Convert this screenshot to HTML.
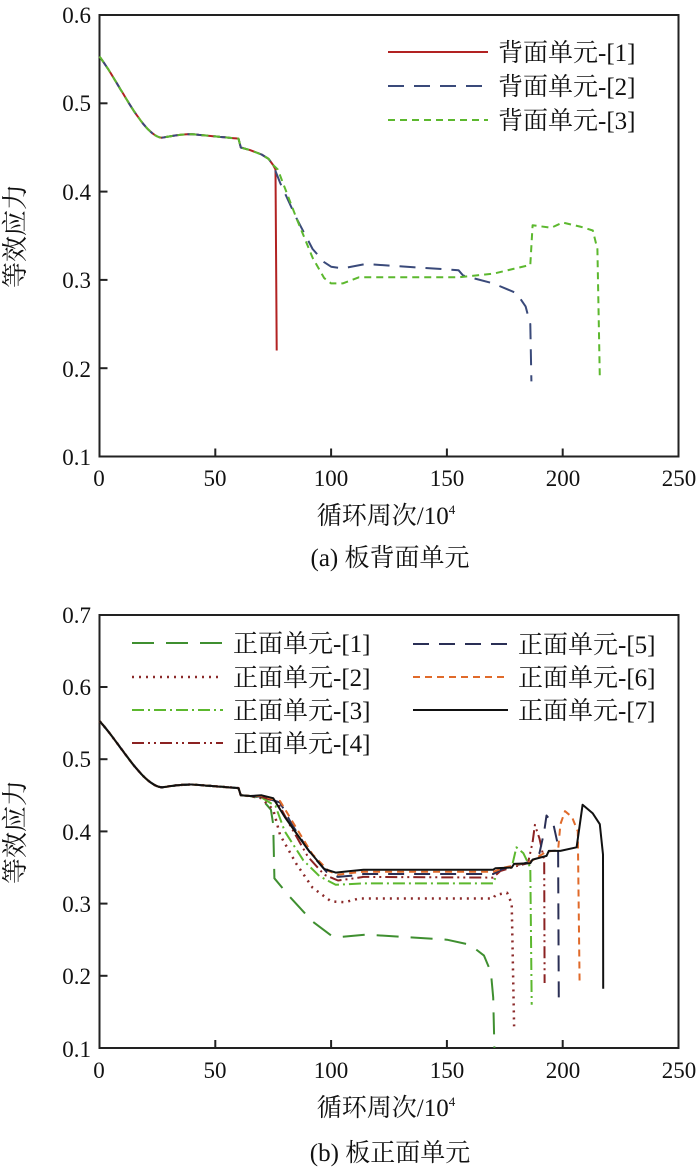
<!DOCTYPE html>
<html><head><meta charset="utf-8"><style>
body{margin:0;background:#fff}
svg text{font-family:"Liberation Serif","Noto Serif CJK SC",serif;fill:#111}
</style></head><body>
<svg id="s" width="700" height="1170" xmlns="http://www.w3.org/2000/svg">
<g font-size="23">
<rect x="99.5" y="15" width="579" height="441.5" fill="none" stroke="#222" stroke-width="2"/>
<g text-anchor="end">
<text x="91" y="23">0.6</text><text x="91" y="111">0.5</text><text x="91" y="200">0.4</text>
<text x="91" y="288">0.3</text><text x="91" y="377">0.2</text><text x="91" y="465">0.1</text>
</g>
<g text-anchor="middle">
<text x="99" y="486">0</text><text x="215" y="486">50</text><text x="331" y="486">100</text>
<text x="447" y="486">150</text><text x="563" y="486">200</text><text x="679" y="486">250</text>
<text x="386" y="524" font-size="25">循环周次/10<tspan font-size="13" dy="-10">4</tspan></text>
<text x="390" y="566" font-size="25">(a) 板背面单元</text>
<text transform="translate(24,236) rotate(-90)" font-size="26">等效应力</text>
</g>
<rect x="99.5" y="615" width="579" height="433" fill="none" stroke="#222" stroke-width="2"/>
<g text-anchor="end">
<text x="91" y="623">0.7</text><text x="91" y="695">0.6</text><text x="91" y="767">0.5</text>
<text x="91" y="840">0.4</text><text x="91" y="912">0.3</text><text x="91" y="984">0.2</text><text x="91" y="1057">0.1</text>
</g>
<g text-anchor="middle">
<text x="99" y="1078">0</text><text x="215" y="1078">50</text><text x="331" y="1078">100</text>
<text x="447" y="1078">150</text><text x="563" y="1078">200</text><text x="679" y="1078">250</text>
<text x="386" y="1116" font-size="25">循环周次/10<tspan font-size="13" dy="-10">4</tspan></text>
<text x="390" y="1161" font-size="25">(b) 板正面单元</text>
<text transform="translate(24,832) rotate(-90)" font-size="26">等效应力</text>
</g>
<g font-size="25">
<line x1="388" y1="52" x2="488" y2="52" stroke="#b22222" stroke-width="2"/>
<line x1="388" y1="86" x2="488" y2="86" stroke="#3a4a7a" stroke-width="2" stroke-dasharray="16,10"/>
<line x1="388" y1="120" x2="488" y2="120" stroke="#5cb82e" stroke-width="2" stroke-dasharray="7,5"/>
<text x="498" y="61">背面单元-[1]</text><text x="498" y="95">背面单元-[2]</text><text x="498" y="129">背面单元-[3]</text>
<line x1="132" y1="643" x2="223" y2="643" stroke="#3f8f30" stroke-width="2" stroke-dasharray="22,12"/>
<line x1="132" y1="677" x2="223" y2="677" stroke="#8b2a2a" stroke-width="2.5" stroke-dasharray="2,5"/>
<line x1="132" y1="710" x2="223" y2="710" stroke="#5cb82e" stroke-width="2" stroke-dasharray="12,4,2,4"/>
<line x1="132" y1="743" x2="223" y2="743" stroke="#8b2222" stroke-width="2" stroke-dasharray="12,4,2,4,2,4"/>
<text x="233" y="652">正面单元-[1]</text><text x="233" y="686">正面单元-[2]</text><text x="233" y="719">正面单元-[3]</text><text x="233" y="752">正面单元-[4]</text>
<line x1="413" y1="644" x2="508" y2="644" stroke="#2a2f55" stroke-width="2" stroke-dasharray="16,10"/>
<line x1="413" y1="677" x2="508" y2="677" stroke="#e06a2a" stroke-width="2" stroke-dasharray="7,5"/>
<line x1="413" y1="710" x2="508" y2="710" stroke="#111" stroke-width="2"/>
<text x="518" y="653">正面单元-[5]</text><text x="518" y="686">正面单元-[6]</text><text x="518" y="719">正面单元-[7]</text>
</g>
</g>
<g id="curves" fill="none" stroke-width="2" stroke-linejoin="round"></g>
</svg>
<script>
const NS="http://www.w3.org/2000/svg";
const g=document.getElementById('curves');
function X(x){return 99.5+x*2.316;}
function Ya(v){return 456.5-(v-0.1)*883;}
function Yb(v){return 1048-(v-0.1)*722;}
function pl(pts,Y,color,dash,w){const p=document.createElementNS(NS,'polyline');
p.setAttribute('points',pts.map(a=>X(a[0]).toFixed(1)+','+Y(a[1]).toFixed(1)).join(' '));
p.setAttribute('stroke',color);if(dash)p.setAttribute('stroke-dasharray',dash);if(w)p.setAttribute('stroke-width',w);g.appendChild(p);}
function ticks(y1,vals,Y){vals.forEach(v=>{const l=document.createElementNS(NS,'line');l.setAttribute('x1',99.5);l.setAttribute('x2',107.5);l.setAttribute('y1',Y(v));l.setAttribute('y2',Y(v));l.setAttribute('stroke','#222');l.setAttribute('stroke-width',2);g.appendChild(l);});
[50,100,150,200].forEach(x=>{const l=document.createElementNS(NS,'line');l.setAttribute('x1',X(x));l.setAttribute('x2',X(x));l.setAttribute('y1',y1);l.setAttribute('y2',y1-8);l.setAttribute('stroke','#222');l.setAttribute('stroke-width',2);g.appendChild(l);});}
ticks(456.5,[0.2,0.3,0.4,0.5],Ya);
ticks(1048,[0.2,0.3,0.4,0.5,0.6],Yb);
// smooth base
const b0=[];
for(let x=0;x<=60;x+=1){let v;
 if(x<=27){const t=x/27;v=0.553-0.092*(t*t*(3-2*t))*0.35-0.092*0.65*(1-Math.pow(1-t,1.6));}
 else{v=0.461+0.004*Math.sin(Math.min(1,(x-27)/13)*Math.PI/2)-0.005*Math.max(0,(x-40)/20);}
 b0.push([x,v]);}
const base=b0.concat([[61,0.45],[65,0.447],[70,0.442],[73,0.437],[75,0.43]]);
pl(base.concat([[76,0.425],[76.5,0.22]]),Ya,'#b22222');
pl(base.concat([[78,0.41],[85,0.37],[92,0.335],[97,0.32],[100,0.315],[105,0.313],[115,0.318],[155,0.311],[157,0.305],[170,0.296],[180,0.285],[184,0.27],[186,0.25],[186.5,0.185]]),Ya,'#3a4a7a','16,10');
pl(base.concat([[77,0.425],[85,0.37],[92,0.325],[97,0.302],[100,0.296],[105,0.296],[112,0.303],[155,0.303],[170,0.307],[186,0.317],[187,0.362],[195,0.359],[200,0.365],[208,0.36],[213,0.356],[215,0.335],[216,0.19]]),Ya,'#5cb82e','7,5');
const bb=b0.concat([[61,0.45],[65,0.449]]);
pl(bb.concat([[70,0.445],[74,0.43],[75,0.41],[75.5,0.335],[82,0.31],[92,0.275],[100,0.256],[105,0.254],[115,0.257],[150,0.25],[160,0.243],[166,0.228],[169,0.205],[170,0.17],[170.5,0.1]]),Yb,'#3f8f30','22,12');
pl(bb.concat([[70,0.446],[75,0.43],[78,0.395],[85,0.355],[92,0.322],[100,0.303],[106,0.302],[112,0.307],[170,0.307],[171,0.312],[176,0.315],[178,0.3],[179,0.13]]),Yb,'#8b2a2a','2,5','2.5');
pl(bb.concat([[70,0.447],[76,0.435],[80,0.4],[88,0.36],[95,0.338],[102,0.326],[108,0.327],[114,0.328],[170,0.328],[172,0.345],[178,0.35],[180,0.378],[183,0.37],[186,0.35],[186.6,0.16]]),Yb,'#5cb82e','12,4,2,4');
pl(bb.concat([[70,0.448],[77,0.44],[82,0.41],[90,0.365],[97,0.34],[103,0.332],[110,0.335],[114,0.337],[170,0.336],[173,0.345],[180,0.352],[185,0.356],[187,0.385],[188,0.409],[190,0.39],[192,0.36],[192.2,0.19]]),Yb,'#8b2222','12,4,2,4,2,4');
pl(bb.concat([[70,0.448],[78,0.44],[83,0.41],[91,0.37],[98,0.344],[103,0.337],[110,0.339],[114,0.341],[170,0.341],[174,0.348],[186,0.358],[190,0.37],[192,0.4],[193,0.422],[196,0.41],[198,0.38],[198.3,0.163]]),Yb,'#2a2f55','16,10');
pl(bb.concat([[70,0.449],[78,0.442],[84,0.41],[92,0.368],[99,0.345],[103,0.34],[110,0.343],[114,0.344],[170,0.344],[175,0.35],[186,0.358],[193,0.372],[198,0.374],[199,0.41],[201,0.428],[204,0.42],[206.5,0.4],[207.3,0.19]]),Yb,'#e06a2a','7,5');
pl(bb.concat([[70,0.45],[75,0.446],[80,0.42],[90,0.375],[97,0.348],[102,0.343],[108,0.345],[114,0.347],[170,0.347],[171,0.349],[178,0.35],[179,0.355],[186,0.356],[187,0.361],[193,0.366],[194,0.373],[199,0.373],[206,0.378],[208.6,0.437],[213,0.425],[216,0.41],[217.4,0.368],[217.5,0.182]]),Yb,'#111');
</script>
</body></html>
